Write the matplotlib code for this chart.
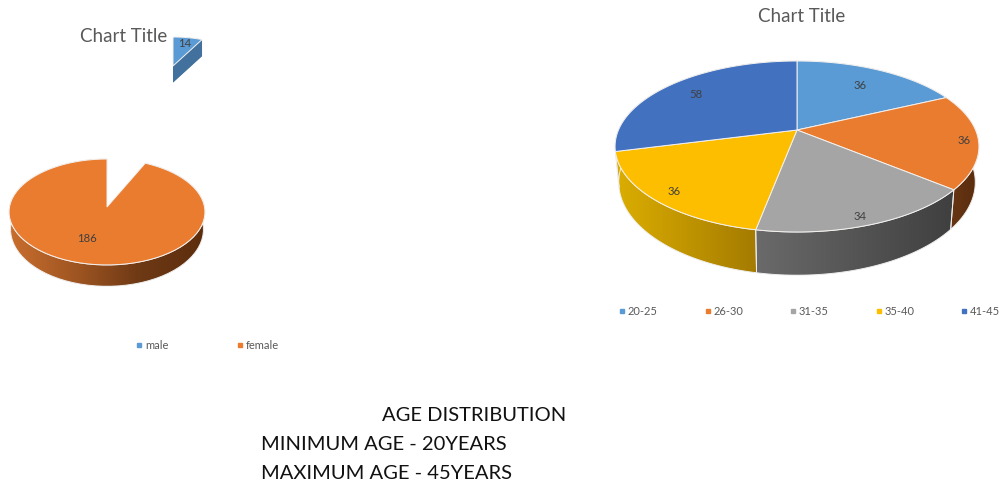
import numpy as np
import matplotlib
matplotlib.use('Agg')
import matplotlib.pyplot as plt
from matplotlib.colors import LinearSegmentedColormap
from matplotlib.lines import Line2D
from matplotlib.patches import Polygon

plt.rcParams['font.family'] = ['Lato', 'DejaVu Sans']

gender_labels = ['male', 'female']
gender_values = [14, 186]
age_labels = ['20-25', '26-30', '31-35', '35-40', '41-45']
age_values = [36, 36, 34, 36, 58]
note_lines = ['AGE DISTRIBUTION', 'MINIMUM AGE - 20YEARS', 'MAXIMUM AGE - 45YEARS']

BLUE = '#5b9bd5'
ORANGE = '#ea7c30'
GRAY = '#a5a5a5'
YELLOW = '#fdbe00'
DARK_BLUE = '#4271c0'

# perspective settings of the fake 3d pies, everything in image pixels
MALE_GEO = dict(cx=173, cy=67, rx=74, ry=31.7, k=0.094, d=16.5, sx=1.0, sy=1.0)
FEMALE_GEO = dict(cx=107, cy=208, rx=97.5, ry=52.5, k=0.094, d=17, sx=0.985, sy=1.075)
AGE_GEO = dict(cx=797, cy=131, rx=178.5, ry=82.3, k=0.193, d=34.3, sx=0.98, sy=1.0875)


def project(x, y, g, lower=False):
    den = 1 + g['k'] * y
    px = x / den * g['rx']
    py = -y / den * g['ry']
    if lower:
        return g['cx'] + px * g['sx'], g['cy'] + py * g['sy'] + g['d']
    return g['cx'] + px, g['cy'] + py


def arc(wedge, g, lower=False):
    t = np.radians(np.linspace(wedge.theta1, wedge.theta2, 80))
    return np.column_stack(project(np.cos(t), np.sin(t), g, lower))


def draw_face(ax, wedge, g, color):
    apex = project(0.0, 0.0, g)
    pts = np.vstack([[apex], arc(wedge, g)])
    ax.add_patch(Polygon(pts, closed=True, facecolor=color, edgecolor='#f4f1ee', lw=0.7, zorder=5))


def draw_rim(ax, wedge, g, stops):
    top = arc(wedge, g)
    low = arc(wedge, g, lower=True)
    pts = np.vstack([top, low[::-1]])
    poly = Polygon(pts, closed=True, facecolor='none', edgecolor='#eeeeee', lw=0.7, zorder=3)
    ax.add_patch(poly)
    cmap = LinearSegmentedColormap.from_list('rim', stops)
    grad = np.linspace(0, 1, 256).reshape(1, -1)
    im = ax.imshow(grad, cmap=cmap, aspect='auto', zorder=2,
                   extent=[pts[:, 0].min(), pts[:, 0].max(), pts[:, 1].max(), pts[:, 1].min()])
    im.set_clip_path(poly)


def slice_label(ax, wedge, g, value, r, nudge=0):
    t = np.radians((wedge.theta1 + wedge.theta2) / 2)
    x, y = project(r * np.cos(t), r * np.sin(t), g)
    ax.text(x + nudge, y, str(value), fontsize=8.2, color='#404040', ha='center', va='center', zorder=8)


fig = plt.figure(figsize=(10.04, 4.85), dpi=100)

# the pies are only computed here, angles get re-projected on the main axes
helper = fig.add_axes([0, 0, 0.01, 0.01])
helper.set_visible(False)
gender_wedges, _ = helper.pie(gender_values, startangle=90, counterclock=False)
age_wedges, _ = helper.pie(age_values, startangle=90, counterclock=False)

ax = fig.add_axes([0, 0, 1, 1])
ax.axis('off')

# left chart
male, female = gender_wedges
draw_rim(ax, female, FEMALE_GEO, ['#c96e2e', '#a05622', '#6e3915', '#5c2d0d'])
draw_face(ax, female, FEMALE_GEO, ORANGE)
top = arc(male, MALE_GEO)
low = arc(male, MALE_GEO, lower=True)
apex_top = project(0.0, 0.0, MALE_GEO)
apex_low = project(0.0, 0.0, MALE_GEO, lower=True)
ax.add_patch(Polygon(np.vstack([[apex_top], top, low[::-1], [apex_low]]), closed=True,
                     facecolor='#41719c', edgecolor='none', zorder=4))
ax.add_patch(Polygon([apex_top, top[-1], low[-1], apex_low], closed=True,
                     facecolor='#41719c', edgecolor='none', zorder=4))
ax.add_patch(Polygon([apex_top, top[0], low[0], apex_low], closed=True,
                     facecolor='#41719c', edgecolor='none', zorder=4))
draw_face(ax, male, MALE_GEO, BLUE)
slice_label(ax, male, MALE_GEO, gender_values[0], 0.8)
slice_label(ax, female, FEMALE_GEO, gender_values[1], 0.56, nudge=-7)

# right chart
age_colors = [BLUE, ORANGE, GRAY, YELLOW, DARK_BLUE]
age_rims = [['#41719c', '#41719c'], ['#6a3714', '#5a2d0e'], ['#6a6a6a', '#3f3f3f'],
            ['#dcae00', '#a47b00'], ['#2f5597', '#2f5597']]
age_r = [0.74, 0.92, 0.92, 0.88, 0.78]
for i in [0, 4, 1, 3, 2]:
    draw_rim(ax, age_wedges[i], AGE_GEO, age_rims[i])
for w, c, v, r in zip(age_wedges, age_colors, age_values, age_r):
    draw_face(ax, w, AGE_GEO, c)
    slice_label(ax, w, AGE_GEO, v, r, nudge=-4 if v == 34 else 0)

ax.set_xlim(0, 1004)
ax.set_ylim(485, 0)

# titles
ax.text(124, 36, 'Chart Title', fontsize=13.5, color='#595959', ha='center', va='center')
ax.text(802, 16, 'Chart Title', fontsize=13.5, color='#595959', ha='center', va='center')


def square(c):
    return Line2D([], [], linestyle='none', marker='s', markersize=3, color=c)


leg1 = ax.legend([square(BLUE), square(ORANGE)], gender_labels, ncol=2, frameon=False,
                 fontsize=8, labelcolor='#595959', loc='center left', bbox_to_anchor=(136, 346),
                 bbox_transform=ax.transData, handlelength=0.6, handletextpad=0.2,
                 columnspacing=6.2, borderpad=0, borderaxespad=0)
ax.add_artist(leg1)
ax.legend([square(c) for c in age_colors], age_labels, ncol=5, frameon=False,
          fontsize=8, labelcolor='#595959', loc='center left', bbox_to_anchor=(619, 312),
          bbox_transform=ax.transData, handlelength=0.6, handletextpad=0.2,
          columnspacing=4.2, borderpad=0, borderaxespad=0)

# text under the charts
ax.text(382, 416, note_lines[0], fontsize=14.5, color='#111111', ha='left', va='center')
ax.text(261, 445, note_lines[1], fontsize=14.5, color='#111111', ha='left', va='center')
ax.text(261, 474, note_lines[2], fontsize=14.5, color='#111111', ha='left', va='center')

fig.savefig('out.png', dpi=100)
